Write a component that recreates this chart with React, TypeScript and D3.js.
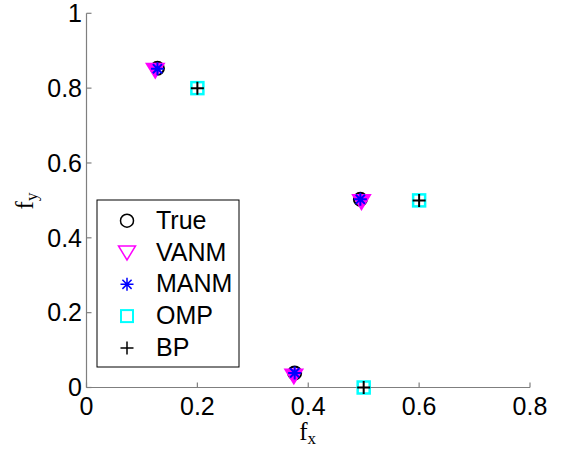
import React from 'react';
import * as d3 from 'd3';

const trueX = [0.128, 0.494, 0.3755];
const trueY = [0.853, 0.503, 0.039];
const vanmX = [0.124, 0.496, 0.374];
const vanmY = [0.848, 0.497, 0.031];
const manmX = [0.128, 0.494, 0.3755];
const manmY = [0.852, 0.503, 0.039];
const ompX = [0.2, 0.6, 0.5];
const ompY = [0.8, 0.5, 0];
const bpX = [0.2, 0.6, 0.5];
const bpY = [0.8, 0.5, 0];
const xTicks = [0, 0.2, 0.4, 0.6, 0.8];
const yTicks = [0, 0.2, 0.4, 0.6, 0.8, 1];
const legendLabels = ['True', 'VANM', 'MANM', 'OMP', 'BP'];

const W = 564;
const H = 452;
const x = d3.scaleLinear().domain([0, 0.8]).range([86.5, 530]);
const y = d3.scaleLinear().domain([0, 1]).range([387.5, 13.3]);
const AX = '#7f7f7f';
const FONT = '"Liberation Sans", Arial, Helvetica, sans-serif';
const SERIF = '"Liberation Serif", "Times New Roman", serif';

type MK = 'circle' | 'tri' | 'star' | 'square' | 'plus';

function Marker({ kind, cx, cy, sw, fillTri }: { kind: MK; cx: number; cy: number; sw: number; fillTri?: boolean }) {
  if (kind === 'circle') {
    return <circle cx={cx} cy={cy} r={6.5} fill="none" stroke="#000" strokeWidth={sw} />;
  }
  if (kind === 'tri') {
    const p = `${cx - 8.5},${cy - 6.5} ${cx + 8.5},${cy - 6.5} ${cx},${cy + 7.5}`;
    return <polygon points={p} fill={fillTri ? '#ff00ff' : 'none'} stroke="#ff00ff" strokeWidth={sw} strokeLinejoin="miter" />;
  }
  if (kind === 'star') {
    const r = 6.5;
    const d = r * Math.SQRT1_2;
    const path = `M${cx - r},${cy}H${cx + r}M${cx},${cy - r}V${cy + r}M${cx - d},${cy - d}L${cx + d},${cy + d}M${cx - d},${cy + d}L${cx + d},${cy - d}`;
    return <path d={path} stroke="#0000ff" strokeWidth={sw} fill="none" />;
  }
  if (kind === 'square') {
    return <rect x={cx - 6} y={cy - 6} width={12} height={12} fill="none" stroke="#00ffff" strokeWidth={sw + 0.5} />;
  }
  const r = 6.5;
  return <path d={`M${cx - r},${cy}H${cx + r}M${cx},${cy - r}V${cy + r}`} stroke="#000" strokeWidth={sw} fill="none" />;
}

const series: { kind: MK; xs: number[]; ys: number[] }[] = [
  { kind: 'circle', xs: trueX, ys: trueY },
  { kind: 'tri', xs: vanmX, ys: vanmY },
  { kind: 'star', xs: manmX, ys: manmY },
  { kind: 'square', xs: ompX, ys: ompY },
  { kind: 'plus', xs: bpX, ys: bpY },
];

export default function App() {
  const x0 = x.range()[0];
  const x1 = x.range()[1];
  const y0 = y.range()[0];
  const y1 = y.range()[1];
  const legX = 97, legY = 200, legW = 142, legH = 167;
  return (
    <svg width={W} height={H} style={{ position: 'absolute', left: 0, top: 0, background: '#fff' }}>
      <rect x={0} y={0} width={W} height={H} fill="#fff" />
      {/* axes */}
      <line x1={x0} x2={x1} y1={y0} y2={y0} stroke={AX} strokeWidth={1.2} />
      <line x1={x0} x2={x0} y1={y0} y2={y1} stroke={AX} strokeWidth={1.2} />
      {xTicks.map((t) => (
        <g key={'x' + t}>
          <line x1={x(t)} x2={x(t)} y1={y0} y2={y0 - 5} stroke={AX} strokeWidth={1.2} />
          <text x={x(t)} y={415} textAnchor="middle" fontFamily={FONT} fontSize={25} fill="#000">
            {String(t)}
          </text>
        </g>
      ))}
      {yTicks.map((t) => (
        <g key={'y' + t}>
          <line x1={x0} x2={x0 + 5} y1={y(t)} y2={y(t)} stroke={AX} strokeWidth={1.2} />
          <text x={82} y={y(t) + 8.8} textAnchor="end" fontFamily={FONT} fontSize={25} fill="#000">
            {String(t)}
          </text>
        </g>
      ))}
      {/* axis labels */}
      <text x={(x0 + x1) / 2 - 9} y={440} fontFamily={SERIF} fontSize={25} fill="#000">
        f<tspan fontSize={17} dy={4}>x</tspan>
      </text>
      <text transform={`translate(33,${(y0 + y1) / 2 + 9}) rotate(-90)`} fontFamily={SERIF} fontSize={25} fill="#000">
        f<tspan fontSize={17} dy={4}>y</tspan>
      </text>
      {/* data */}
      {series.map((s) =>
        s.xs.map((v, i) => (
          <Marker key={s.kind + i} kind={s.kind} cx={x(v)} cy={y(s.ys[i])} sw={2} fillTri />
        ))
      )}
      {/* legend */}
      <rect x={legX} y={legY} width={legW} height={legH} fill="#fff" stroke="#000" strokeWidth={1} />
      {legendLabels.map((lab, i) => {
        const cy = legY + 20.7 + i * 31.8;
        return (
          <g key={lab}>
            <Marker kind={series[i].kind} cx={127} cy={cy} sw={1.5} />
            <text x={156} y={cy + 8} fontFamily={FONT} fontSize={25} fill="#000">
              {lab}
            </text>
          </g>
        );
      })}
    </svg>
  );
}
